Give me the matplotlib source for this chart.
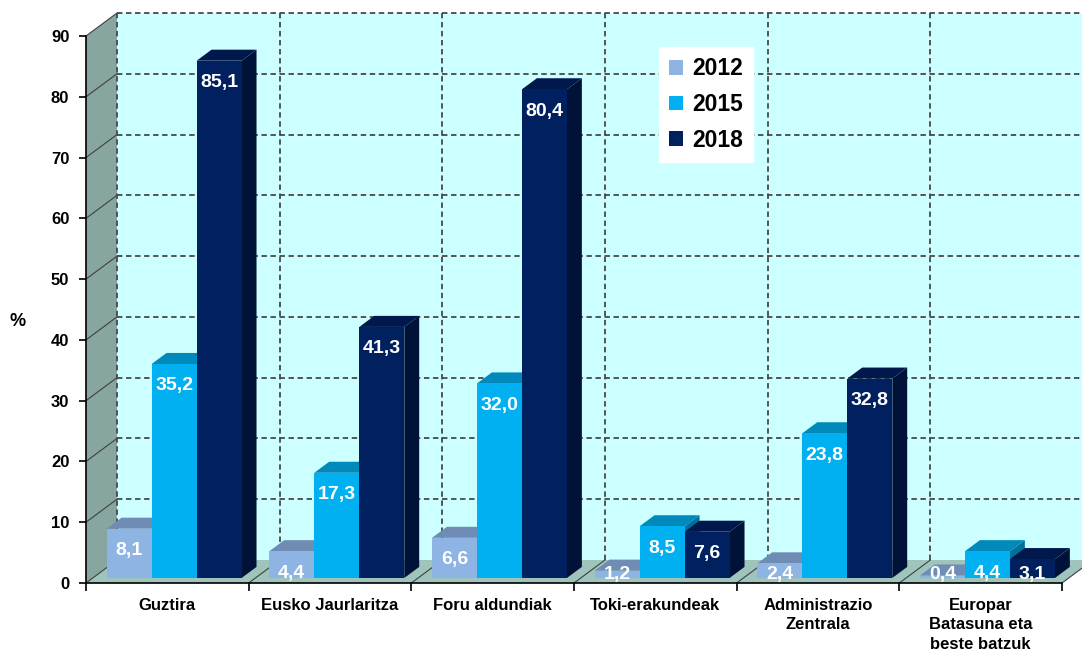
import matplotlib.pyplot as plt
from matplotlib.patches import Polygon, Patch

plt.rcParams['font.family'] = ['Liberation Sans', 'DejaVu Sans']
plt.rcParams['font.weight'] = 'bold'

categories = ['Guztira', 'Eusko Jaurlaritza', 'Foru aldundiak', 'Toki-erakundeak',
              'Administrazio\nZentrala', 'Europar\nBatasuna eta\nbeste batzuk']
years = ['2012', '2015', '2018']
v2012 = [8.1, 4.4, 6.6, 1.2, 2.4, 0.4]
v2015 = [35.2, 17.3, 32.0, 8.5, 23.8, 4.4]
v2018 = [85.1, 41.3, 80.4, 7.6, 32.8, 3.1]
yticks = list(range(0, 100, 10))

series = [v2012, v2015, v2018]
# front, top, side
colors = [('#8db4e2', '#6f8cb4', '#5b7699'),
          ('#00b0f0', '#0089bb', '#00709a'),
          ('#002060', '#00184c', '#001238')]

wall = '#ccffff'
side_wall = '#87a6a0'
floor = '#9fc4bb'
grid_c = '#484848'

fig = plt.figure(figsize=(10.82, 6.51), dpi=100)
ax = fig.add_axes([86 / 1082, 68 / 651, 976 / 1082, 547 / 651])
ax.set_xlim(0, 6)
ax.set_ylim(0, 90)
ax.patch.set_alpha(0)

# depth offset of the back wall, in data units
DX = 31 / (976 / 6)
DY = 23 / (547 / 90)
top = yticks[-1]
n = len(categories)

# walls and floor
ax.add_patch(Polygon([(DX, DY), (n + 1, DY), (n + 1, top + DY), (DX, top + DY)],
                     closed=True, facecolor=wall, edgecolor='none', zorder=0, clip_on=False))
ax.add_patch(Polygon([(0, 0), (DX, DY), (DX, top + DY), (0, top)],
                     closed=True, facecolor=side_wall, edgecolor='none', zorder=0, clip_on=False))
ax.add_patch(Polygon([(0, 0), (n, 0), (n + DX, DY), (DX, DY)],
                     closed=True, facecolor=floor, edgecolor='none', zorder=0.5, clip_on=False))
ax.plot([n, n + DX], [0, DY], color='#404040', lw=0.8, zorder=0.6, clip_on=False)

# grid on back wall
for t in yticks[1:]:
    ax.plot([DX, n + 1], [t + DY, t + DY], color=grid_c, lw=1.3, ls=(0, (3, 2)), zorder=0.2, clip_on=False)
    ax.plot([0, DX], [t, t + DY], color='#404040', lw=0.8, zorder=0.2, clip_on=False)
for k in range(0, n):
    ax.plot([k + DX, k + DX], [DY, top + DY], color=grid_c, lw=1.3, ls=(0, (3, 2)), zorder=0.2, clip_on=False)
    ax.plot([k, k + DX], [0, DY], color='#404040', lw=0.8, zorder=0.6, clip_on=False)

# 3d bars
d0 = 0.22
bd = 0.48
w = 0.2766
off = (1 - 3 * w) / 2
for i in range(n):
    for j, vals in enumerate(series):
        v = vals[i]
        fc, tc, sc = colors[j]
        x0 = i + off + j * w + d0 * DX
        b = d0 * DY
        t = v + b
        ax.add_patch(Polygon([(x0 + w, b), (x0 + w + bd * DX, b + bd * DY),
                              (x0 + w + bd * DX, t + bd * DY), (x0 + w, t)],
                             closed=True, facecolor=sc, edgecolor='none', zorder=2, clip_on=False))
        ax.add_patch(Polygon([(x0, t), (x0 + w, t), (x0 + w + bd * DX, t + bd * DY), (x0 + bd * DX, t + bd * DY)],
                             closed=True, facecolor=tc, edgecolor='none', zorder=2, clip_on=False))
        ax.add_patch(Polygon([(x0, b), (x0 + w, b), (x0 + w, t), (x0, t)],
                             closed=True, facecolor=fc, edgecolor='none', zorder=2, clip_on=False))
        ly = max(v - 3.6, 0.5) + b
        ax.text(x0 + w / 2, ly, f'{v:.1f}'.replace('.', ','), color='white', fontsize=14,
                fontweight='bold', ha='center', va='center', zorder=5)

# axes
for s in ['top', 'right']:
    ax.spines[s].set_visible(False)
ax.spines['left'].set_linewidth(1.2)
ax.spines['bottom'].set_linewidth(1.2)
ax.spines['left'].set_zorder(3)
ax.spines['bottom'].set_zorder(3)
ax.set_yticks(yticks)
ax.set_yticklabels([str(t) for t in yticks], fontsize=12, fontweight='bold')
ax.tick_params(axis='y', direction='out', length=5, width=1.2, pad=7)
ax.set_xticks(range(n + 1))
ax.set_xticklabels([])
ax.tick_params(axis='x', which='major', direction='out', length=6, width=1.2)
ax.set_xticks([k + 0.5 for k in range(n)], minor=True)
ax.set_xticklabels(categories, minor=True, fontsize=12, fontweight='bold', linespacing=1.35)
ax.tick_params(axis='x', which='minor', length=0, pad=11)

fig.text(18 / 1082, 1 - 322 / 651, '%', fontsize=13, fontweight='bold', ha='center', va='center')

handles = [Patch(facecolor=colors[j][0], edgecolor='none', label=years[j]) for j in range(3)]
leg = ax.legend(handles=handles, loc='upper left', bbox_to_anchor=(659 / 1082, 1 - 47 / 651),
                bbox_transform=fig.transFigure, frameon=True, fancybox=False,
                prop={'size': 16.5, 'weight': 'bold'}, handlelength=0.6, handleheight=0.6,
                handletextpad=0.4, labelspacing=0.55, borderpad=0.45, borderaxespad=0)
leg.get_frame().set_facecolor('white')
leg.get_frame().set_edgecolor('white')
leg.get_frame().set_alpha(1)
leg.set_zorder(6)

fig.savefig('out.png', dpi=100)
